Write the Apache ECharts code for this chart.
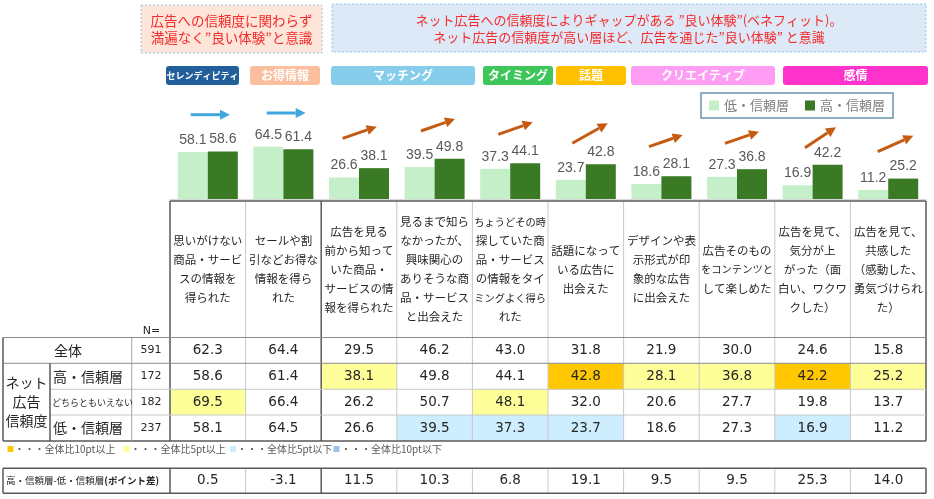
<!DOCTYPE html>
<html><head><meta charset="utf-8">
<script src="https://cdn.jsdelivr.net/npm/echarts@6.0.0/dist/echarts.min.js"></script>
<style>html,body{margin:0;padding:0;background:#fff}#c{width:934px;height:499px}</style>
</head><body><div id="c"></div>
<script>
// ---------- DATA ----------
const categories = [
 '思いがけない\n商品・サービ\nスの情報を\n得られた',
 'セールや割\n引などお得な\n情報を得ら\nれた',
 '広告を見る\n前から知って\nいた商品・\nサービスの情\n報を得られた',
 '見るまで知ら\nなかったが、\n興味関心の\nありそうな商\n品・サービス\nと出会えた',
 'ちょうどその時\n探していた商\n品・サービス\nの情報をタイ\nミングよく得ら\nれた',
 '話題になって\nいる広告に\n出会えた',
 'デザインや表\n示形式が印\n象的な広告\nに出会えた',
 '広告そのもの\nをコンテンツと\nして楽しめた',
 '広告を見て、\n気分が上\nがった（面\n白い、ワクワ\nクした）',
 '広告を見て、\n共感した\n（感動した、\n勇気づけられ\nた）'
];
const seriesNames = ['低・信頼層', '高・信頼層'];
const lowValues   = [58.1, 64.5, 26.6, 39.5, 37.3, 23.7, 18.6, 27.3, 16.9, 11.2];
const highValues  = [58.6, 61.4, 38.1, 49.8, 44.1, 42.8, 28.1, 36.8, 42.2, 25.2];
const totalValues = [62.3, 64.4, 29.5, 46.2, 43.0, 31.8, 21.9, 30.0, 24.6, 15.8];
const midValues   = [69.5, 66.4, 26.2, 50.7, 48.1, 32.0, 20.6, 27.7, 19.8, 13.7];
const diffValues  = [0.5, -3.1, 11.5, 10.3, 6.8, 19.1, 9.5, 9.5, 25.3, 14.0];
const rowLabels   = ['全体', '高・信頼層', 'どちらともいえない', '低・信頼層'];
const sampleSizes = [591, 172, 182, 237];
const groupLabel  = 'ネット\n広告\n信頼度';
const tagLabels   = ['セレンディピティ', 'お得情報', 'マッチング', 'タイミング', '話題', 'クリエイティブ', '感情'];
const bannerTexts = [
 '広告への信頼度に関わらず\n満遍なく”良い体験”と意識',
 'ネット広告への信頼度によりギャップがある ”良い体験”(ベネフィット)。\nネット広告の信頼度が高い層ほど、広告を通じた”良い体験” と意識'
];
const keyTexts = ['・・・全体比10pt以上', '・・・全体比5pt以上', '・・・全体比5pt以下', '・・・全体比10pt以下'];
const diffLabel = ['高・信頼層-低・信頼層', '(ポイント差)'];

// ---------- LAYOUT / STYLE ----------
const JP = '"Noto Sans CJK JP", sans-serif';
const NUM = '"DejaVu Sans", sans-serif';
const TL = 170, TR = 926, CW = (TR - TL) / 10;
const HEAD_TOP = 201, ROWS_Y = [337.5, 363.3, 389.3, 415, 441];
const DIFF_Y = [468.3, 493.3];
const LIGHT = '#c4efc9', DARK = '#3a7a25';
const keyColors = ['#ffc800', '#ffff99', '#cdeefe', '#9dc3e6'];
const tagColors = ['#215f9a', '#fbbf9f', '#86cdec', '#3fc65a', '#ffc000', '#ff9cf4', '#ff33cc'];
const tagRects = [[166, 239], [250, 320], [331, 475], [483, 553], [556, 626], [631, 775], [783, 928]];
const arrowLayout = [
 [190.7, 114.7, 230, 114.7, '#41a6de'],
 [266.7, 113, 305.7, 113, '#41a6de'],
 [342.7, 138.3, 376.7, 126.7, '#c55a11'],
 [421, 131, 455, 119, '#c55a11'],
 [498.3, 134.3, 532.7, 122.3, '#c55a11'],
 [572.3, 143.3, 607.7, 123.3, '#c55a11'],
 [649, 146.7, 682.7, 135, '#c55a11'],
 [725, 143.3, 759, 131.7, '#c55a11'],
 [805, 147.7, 836, 127.3, '#c55a11'],
 [877.7, 151.7, 913.3, 135.7, '#c55a11']
];

const g = [];
const cx = i => TL + CW * (i + 0.5);
function line(x1, y1, x2, y2, stroke, w) {
  g.push({type: 'line', silent: true, shape: {x1, y1, x2, y2}, style: {stroke, lineWidth: w || 1}});
}
function rect(x, y, w, h, style, r) {
  g.push({type: 'rect', silent: true, shape: {x, y, width: w, height: h, r: r || 0}, style});
}
function text(t, x, y, o) {
  g.push({type: 'text', silent: true, style: Object.assign({text: t, x, y, align: 'center', verticalAlign: 'middle', fill: '#262626', fontFamily: JP, fontSize: 12}, o || {})});
}
function arrow(x1, y1, x2, y2, color) {
  const dx = x2 - x1, dy = y2 - y1, L = Math.hypot(dx, dy), ux = dx / L, uy = dy / L;
  const hl = 10, hw = 5, bx = x2 - ux * hl, by = y2 - uy * hl;
  g.push({type: 'line', silent: true, shape: {x1, y1, x2: bx, y2: by}, style: {stroke: color, lineWidth: 3}});
  g.push({type: 'polygon', silent: true, shape: {points: [[x2, y2], [bx - uy * hw, by + ux * hw], [bx + uy * hw, by - ux * hw]]}, style: {fill: color}});
}
function cellColor(v, t) {
  const d = v - t;
  if (d >= 10) return keyColors[0];
  if (d >= 5) return keyColors[1];
  if (d <= -10) return keyColors[3];
  if (d <= -5) return keyColors[2];
  return null;
}

// banners
rect(141, 5, 181, 48, {fill: '#fde5d9', stroke: '#8fc9ea', lineWidth: 1, lineDash: [2, 2]});
text(bannerTexts[0], 231.5, 29.5, {fill: '#f52a2a', fontSize: 13.5, lineHeight: 17});
rect(332, 4, 594, 48, {fill: '#dde9f6', stroke: '#8fc9ea', lineWidth: 1, lineDash: [2, 2]});
text(bannerTexts[1], 629, 29, {fill: '#f52a2a', fontSize: 13, lineHeight: 17});

// tags
tagLabels.forEach((t, i) => {
  const [a, b] = tagRects[i];
  rect(a, 66, b - a, 19, {fill: tagColors[i]}, 3);
  text(t, (a + b) / 2, 75.5, {fill: '#fff', fontWeight: 'bold', fontSize: i === 0 ? 9 : 12});
});

// arrows
arrowLayout.forEach(a => arrow(a[0], a[1], a[2], a[3], a[4]));

// cell highlights
const rows = [totalValues, highValues, midValues, lowValues];
for (let r = 1; r < 4; r++) {
  rows[r].forEach((v, i) => {
    const c = cellColor(v, totalValues[i]);
    if (c) rect(TL + CW * i, ROWS_Y[r], CW, ROWS_Y[r + 1] - ROWS_Y[r], {fill: c});
  });
}

// table lines
const DK = '#595959', MD = '#8c8c8c', LT = '#c8c8c8';
for (let i = 0; i <= 10; i++) {
  const x = TL + CW * i;
  const dark = (i === 0 || i === 2 || i === 10);
  line(x, HEAD_TOP, x, ROWS_Y[4], dark ? DK : LT, dark ? 1.5 : 1);
  line(x, DIFF_Y[0], x, DIFF_Y[1], dark ? DK : LT, dark ? 1.5 : 1);
}
line(TL, HEAD_TOP, TR, HEAD_TOP, DK, 1.5);
line(3, ROWS_Y[0], TR, ROWS_Y[0], MD, 1);
line(3, ROWS_Y[1], TR, ROWS_Y[1], MD, 1);
line(50, ROWS_Y[2], TR, ROWS_Y[2], LT, 1);
line(50, ROWS_Y[3], TR, ROWS_Y[3], LT, 1);
line(3, ROWS_Y[4], TR, ROWS_Y[4], DK, 1.5);
line(3, ROWS_Y[0], 3, ROWS_Y[4], DK, 1.5);
line(50, ROWS_Y[1], 50, ROWS_Y[4], DK, 1.5);
line(131.7, ROWS_Y[0], 131.7, ROWS_Y[4], '#a6a6a6', 1);
line(3, DIFF_Y[0], TR, DIFF_Y[0], DK, 1.5);
line(3, DIFF_Y[1], TR, DIFF_Y[1], DK, 1.5);
line(3, DIFF_Y[0], 3, DIFF_Y[1], DK, 1.5);

// header texts (line by line so long lines fit the column)
const HL = 19, HC = 269.5;
categories.forEach((t, i) => {
  const ls = t.split('\n');
  ls.forEach((s, k) => {
    const fs = Math.min(11.5, 72 / s.length);
    text(s, cx(i), HC + (k - (ls.length - 1) / 2) * HL, {fontSize: fs});
  });
});
text('N=', 151.5, 331, {fontFamily: NUM, fontSize: 11});

// row labels
const rc = r => (ROWS_Y[r] + ROWS_Y[r + 1]) / 2;
text(rowLabels[0], 68, rc(0), {fontSize: 14});
text(groupLabel, 26.5, 402, {fontSize: 14, lineHeight: 19});
text(rowLabels[1], 53, rc(1), {fontSize: 14, align: 'left'});
text(rowLabels[2], 52, rc(2), {fontSize: 9, align: 'left'});
text(rowLabels[3], 53, rc(3), {fontSize: 14, align: 'left'});
sampleSizes.forEach((n, r) => text(String(n), 151, rc(r), {fontFamily: NUM, fontSize: 11}));

// values
rows.forEach((arr, r) => arr.forEach((v, i) => text(v.toFixed(1), cx(i), rc(r), {fontFamily: NUM, fontSize: 13.5})));

// key row
const keyX = [[7.5, 14.5], [123.5, 130.5], [230, 237], [333.5, 341]];
keyTexts.forEach((t, k) => {
  rect(keyX[k][0], 446, 6, 6, {fill: keyColors[k]});
  text(t, keyX[k][1], 449.5, {fontSize: 10, align: 'left', fill: '#595959'});
});

// diff row
g.push({type: 'text', silent: true, style: {
  text: '{a|' + diffLabel[0] + '}{b|' + diffLabel[1] + '}', x: 6, y: (DIFF_Y[0] + DIFF_Y[1]) / 2,
  align: 'left', verticalAlign: 'middle',
  rich: {a: {fontFamily: JP, fontSize: 9.5, fill: '#262626'}, b: {fontFamily: JP, fontSize: 9.5, fontWeight: 'bold', fill: '#262626'}}
}});
diffValues.forEach((v, i) => text(v.toFixed(1), cx(i), (DIFF_Y[0] + DIFF_Y[1]) / 2, {fontFamily: NUM, fontSize: 13.5}));

// ---------- CHART ----------
const chart = echarts.init(document.getElementById('c'), null, {renderer: 'canvas'});
const labelStyle = {show: true, position: 'top', distance: 5, color: '#595959', fontFamily: '"Liberation Sans", sans-serif', fontSize: 14, formatter: p => p.value.toFixed(1)};
chart.setOption({
  animation: false,
  backgroundColor: '#fff',
  legend: {
    data: seriesNames, left: 701, top: 93, icon: 'rect', itemWidth: 10, itemHeight: 10, itemGap: 16,
    padding: [6, 8], borderColor: '#6b93ad', borderWidth: 1.5, backgroundColor: '#fff',
    textStyle: {color: '#7f7f7f', fontSize: 13, fontFamily: JP}
  },
  grid: {left: TL, right: 934 - TR, top: 118, bottom: 300, containLabel: false},
  xAxis: {type: 'category', data: categories, axisLabel: {show: false}, axisTick: {show: false},
    axisLine: {show: true, lineStyle: {color: '#d9d9d9'}}},
  yAxis: {type: 'value', min: 0, max: 100, show: false, splitLine: {show: false}},
  series: [
    {name: seriesNames[0], type: 'bar', data: lowValues, barWidth: 30, barGap: '0%', itemStyle: {color: LIGHT}, label: labelStyle},
    {name: seriesNames[1], type: 'bar', data: highValues, barWidth: 30, barGap: '0%', itemStyle: {color: DARK}, label: labelStyle}
  ],
  graphic: {elements: g}
});
</script></body></html>
